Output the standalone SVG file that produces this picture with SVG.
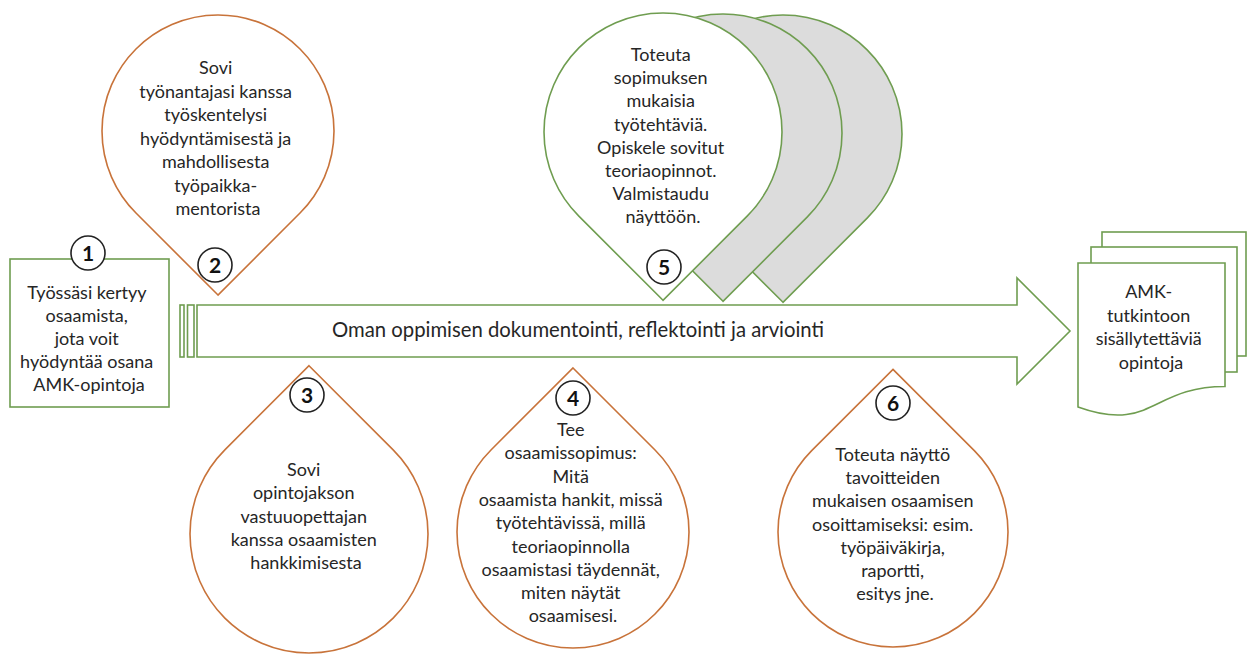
<svg xmlns="http://www.w3.org/2000/svg" width="1248" height="655" viewBox="0 0 1248 655">
<style>
  .txt { font-family: Lato, "Liberation Sans", sans-serif; font-size: 18px; fill: #262626; text-anchor: middle; }
  .big { font-family: Lato, "Liberation Sans", sans-serif; font-size: 20.3px; fill: #262626; text-anchor: middle; }
  .num { font-family: Lato, "Liberation Sans", sans-serif; font-size: 21px; font-weight: bold; fill: #111; text-anchor: middle; }
  .ring { fill: #ffffff; stroke: #222; stroke-width: 1.6; }
  .orange { fill: #ffffff; stroke: #c8733a; stroke-width: 1.6; }
  .green { fill: #ffffff; stroke: #6f9d50; stroke-width: 1.6; }
  .gray { fill: #dcdcdc; stroke: #6f9d50; stroke-width: 1.6; }
</style>
<rect width="1248" height="655" fill="#ffffff"/>

<g id="arrow">
  <rect class="green" x="180" y="305" width="4" height="52"/>
  <rect class="green" x="187.5" y="305" width="6.5" height="52"/>
  <path class="green" d="M197,305 L1017,305 L1017,278 L1070,331 L1017,384 L1017,357 L197,357 Z"/>
  <text class="big" x="578" y="337">Oman oppimisen dokumentointi, reflektointi ja arviointi</text>
</g>

<g id="node-1">
  <rect class="green" x="10" y="259" width="159" height="148"/>
  <circle class="ring" cx="88" cy="253" r="17"/>
  <text class="num" x="88" y="260.5">1</text>
  <text class="txt" x="89" y="299">
    <tspan x="89" dy="0">Työssäsi kertyy</tspan>
    <tspan x="89" dy="23">osaamista,</tspan>
    <tspan x="89" dy="23">jota voit</tspan>
    <tspan x="89" dy="23">hyödyntää osana</tspan>
    <tspan x="89" dy="23">AMK-opintoja</tspan>
  </text>
</g>

<g id="node-2">
  <path class="orange" d="M218,295.05 L135.98,213.02 A116,116 0 1 1 300.02,213.02 Z"/>
  <circle class="ring" cx="215" cy="265" r="17"/>
  <text class="num" x="215" y="272.5">2</text>
  <text class="txt" x="218" y="74">
    <tspan x="218" dy="0">Sovi</tspan>
    <tspan x="218" dy="23.5">työnantajasi kanssa</tspan>
    <tspan x="218" dy="23.5">työskentelysi</tspan>
    <tspan x="218" dy="23.5">hyödyntämisestä ja</tspan>
    <tspan x="218" dy="23.5">mahdollisesta</tspan>
    <tspan x="218" dy="23.5">työpaikka-</tspan>
    <tspan x="218" dy="23.5">mentorista</tspan>
  </text>
</g>

<g id="node-5">
  <path class="gray" d="M783,302.3 L698.85,218.15 A119,119 0 1 1 867.15,218.15 Z"/>
  <path class="gray" d="M723,301.3 L638.85,217.15 A119,119 0 1 1 807.15,217.15 Z"/>
  <path class="green" d="M663,300.3 L578.85,216.15 A119,119 0 1 1 747.15,216.15 Z"/>
  <circle class="ring" cx="664" cy="267" r="17"/>
  <text class="num" x="664" y="274.5">5</text>
  <text class="txt" x="663" y="61">
    <tspan x="663" dy="0">Toteuta</tspan>
    <tspan x="663" dy="23.2">sopimuksen</tspan>
    <tspan x="663" dy="23.2">mukaisia</tspan>
    <tspan x="663" dy="23.2">työtehtäviä.</tspan>
    <tspan x="663" dy="23.2">Opiskele sovitut</tspan>
    <tspan x="663" dy="23.2">teoriaopinnot.</tspan>
    <tspan x="663" dy="23.2">Valmistaudu</tspan>
    <tspan x="663" dy="23.2">näyttöön.</tspan>
  </text>
</g>

<g id="node-3">
  <path class="orange" d="M309,365.7 L393.15,449.85 A119,119 0 1 1 224.85,449.85 Z"/>
  <circle class="ring" cx="307" cy="395" r="17"/>
  <text class="num" x="307" y="402.5">3</text>
  <text class="txt" x="306" y="476">
    <tspan x="306" dy="0">Sovi</tspan>
    <tspan x="306" dy="23.3">opintojakson</tspan>
    <tspan x="306" dy="23.3">vastuuopettajan</tspan>
    <tspan x="306" dy="23.3">kanssa osaamisten</tspan>
    <tspan x="306" dy="23.3">hankkimisesta</tspan>
  </text>
</g>

<g id="node-4">
  <path class="orange" d="M573,367.95 L655.02,449.98 A116,116 0 1 1 490.98,449.98 Z"/>
  <circle class="ring" cx="573" cy="398" r="17"/>
  <text class="num" x="573" y="405.5">4</text>
  <text class="txt" x="573" y="436">
    <tspan x="573" dy="0">Tee</tspan>
    <tspan x="573" dy="23.3">osaamissopimus:</tspan>
    <tspan x="573" dy="23.3">Mitä</tspan>
    <tspan x="573" dy="23.3">osaamista hankit, missä</tspan>
    <tspan x="573" dy="23.3">työtehtävissä, millä</tspan>
    <tspan x="573" dy="23.3">teoriaopinnolla</tspan>
    <tspan x="573" dy="23.3">osaamistasi täydennät,</tspan>
    <tspan x="573" dy="23.3">miten näytät</tspan>
    <tspan x="573" dy="23.3">osaamisesi.</tspan>
  </text>
</g>

<g id="node-6">
  <path class="orange" d="M893,369.4 L974.32,450.68 A115,115 0 1 1 811.68,450.68 Z"/>
  <circle class="ring" cx="893" cy="403" r="17"/>
  <text class="num" x="893" y="410.5">6</text>
  <text class="txt" x="895" y="461">
    <tspan x="895" dy="0">Toteuta näyttö</tspan>
    <tspan x="895" dy="23.2">tavoitteiden</tspan>
    <tspan x="895" dy="23.2">mukaisen osaamisen</tspan>
    <tspan x="895" dy="23.2">osoittamiseksi: esim.</tspan>
    <tspan x="895" dy="23.2">työpäiväkirja,</tspan>
    <tspan x="895" dy="23.2">raportti,</tspan>
    <tspan x="895" dy="23.2">esitys jne.</tspan>
  </text>
</g>

<g id="node-7">
  <rect class="green" x="1102" y="232" width="144" height="124"/>
  <rect class="green" x="1091" y="247" width="146" height="125"/>
  <path class="green" d="M1078,263 L1225,263 L1225,386.5 C1151.5,386.5 1151.5,433.5 1078,407 Z"/>
  <text class="txt" x="1151" y="298">
    <tspan x="1151" dy="0">AMK-</tspan>
    <tspan x="1151" dy="23.5">tutkintoon</tspan>
    <tspan x="1151" dy="23.5">sisällytettäviä</tspan>
    <tspan x="1151" dy="23.5">opintoja</tspan>
  </text>
</g>
</svg>
